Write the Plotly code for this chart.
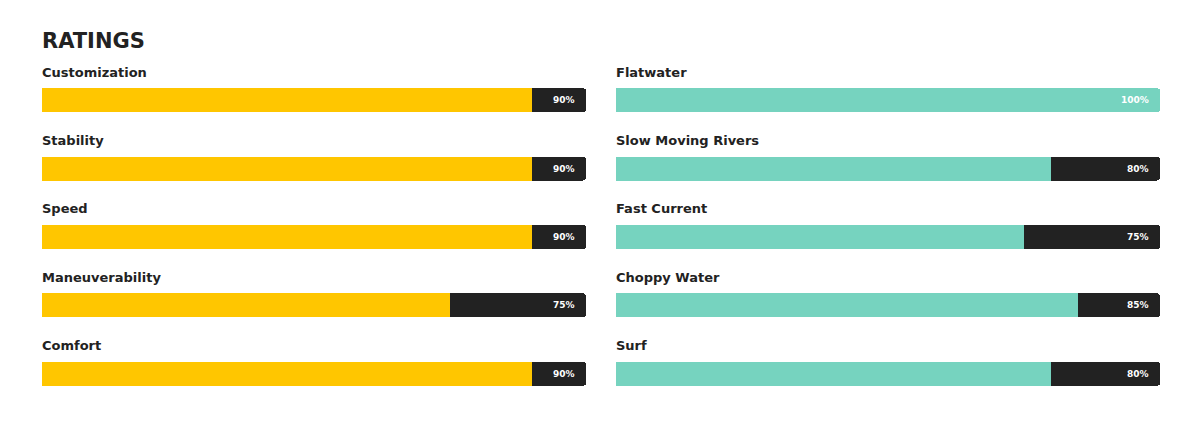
import plotly.graph_objects as go

# Ratings data
left_labels = ["Customization", "Stability", "Speed", "Maneuverability", "Comfort"]
left_values = [90, 90, 90, 75, 90]
right_labels = ["Flatwater", "Slow Moving Rivers", "Fast Current", "Choppy Water", "Surf"]
right_values = [100, 80, 75, 85, 80]

YELLOW = "#FFC600"
TEAL = "#76D3BF"
DARK = "#222222"
FONT = "DejaVu Sans"

fig = go.Figure()
annotations = []

for side, labels, values, color in [("", left_labels, left_values, YELLOW),
                                     ("2", right_labels, right_values, TEAL)]:
    ys = list(range(len(labels)))
    rest = [100 - v for v in values]
    fig.add_trace(go.Bar(x=values, y=ys, orientation="h", marker_color=color,
                         width=0.35, xaxis="x" + side, yaxis="y" + side,
                         hoverinfo="skip", marker_line_width=0))
    fig.add_trace(go.Bar(x=rest, y=ys, orientation="h", marker_color=DARK,
                         width=0.35, xaxis="x" + side, yaxis="y" + side,
                         hoverinfo="skip", marker_line_width=0))
    for i, (lab, v) in enumerate(zip(labels, values)):
        annotations.append(dict(x=0, y=i - 0.41, xref="x" + side, yref="y" + side,
                                text=f"<b>{lab}</b>", showarrow=False, xanchor="left", yanchor="middle",
                                font=dict(family=FONT, size=13, color="#222"), xshift=-2))
        annotations.append(dict(x=98.3, y=i, xref="x" + side, yref="y" + side,
                                text=f"<b>{v}%</b>", showarrow=False, xanchor="right", yanchor="middle",
                                font=dict(family=FONT, size=9, color="white")))

annotations.append(dict(x=34 / 1200, y=1 - 33 / 427, xref="paper", yref="paper",
                        text="<b>RATINGS</b>", showarrow=False, xanchor="left", yanchor="middle",
                        font=dict(family=FONT, size=21, color="#222"), xshift=-2))

ydom = [1 - 400 / 427, 1 - 58 / 427]
axis_common = dict(showgrid=False, zeroline=False, showticklabels=False, fixedrange=True)
fig.update_layout(
    width=1200, height=427, margin=dict(l=0, r=0, t=0, b=0),
    paper_bgcolor="white", plot_bgcolor="white",
    barmode="stack", barcornerradius=3, showlegend=False,
    xaxis=dict(domain=[34 / 1200, 578 / 1200], range=[0, 100], **axis_common),
    xaxis2=dict(domain=[608 / 1200, 1152 / 1200], range=[0, 100], **axis_common),
    yaxis=dict(domain=ydom, range=[4.5, -0.5], **axis_common),
    yaxis2=dict(domain=ydom, range=[4.5, -0.5], anchor="x2", **axis_common),
    annotations=annotations,
)

fig.write_html("out.html")
